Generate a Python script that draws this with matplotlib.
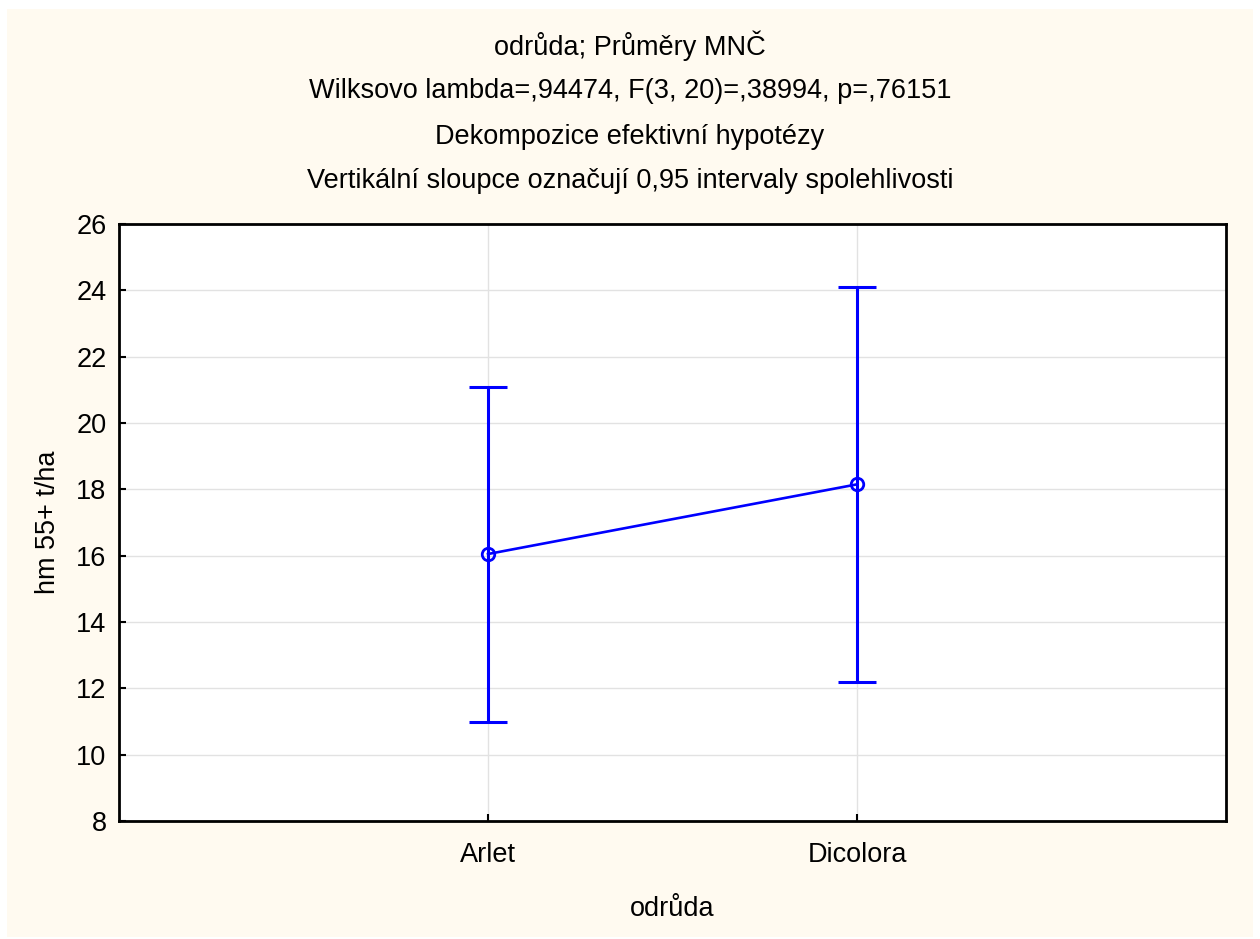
import matplotlib
matplotlib.use("Agg")
import matplotlib.pyplot as plt
from matplotlib.patches import Rectangle

# Data: least-squares means with 0.95 confidence limits
varieties = ["Arlet", "Dicolora"]
means = [16.05, 18.15]
ci_low = [11.0, 12.2]
ci_high = [21.1, 24.1]
y_ticks = [8, 10, 12, 14, 16, 18, 20, 22, 24, 26]

title_lines = [
    "odrůda; Průměry MNČ",
    "Wilksovo lambda=,94474, F(3, 20)=,38994, p=,76151",
    "Dekompozice efektivní hypotézy",
    "Vertikální sloupce označují 0,95 intervaly spolehlivosti",
]

plt.rcParams["font.family"] = ["Liberation Sans", "DejaVu Sans"]
FS = 19.5

W, H = 1260, 939
fig = plt.figure(figsize=(W / 100, H / 100), dpi=100, facecolor="white")
fig.patches.append(Rectangle((7 / W, 2 / H), 1246 / W, 928 / H,
                             transform=fig.transFigure, facecolor="#FFFAF0",
                             edgecolor="none", zorder=-10))

ax = fig.add_axes([119 / W, 1 - 821 / H, (1226 - 119) / W, (821 - 224) / H])
ax.set_facecolor("white")

x = [1, 2]
yerr = [[m - lo for m, lo in zip(means, ci_low)],
        [hi - m for m, hi in zip(means, ci_high)]]
ax.errorbar(x, means, yerr=yerr, fmt="none", ecolor="#0000FF",
            elinewidth=2.2, capsize=13.7, capthick=2.2, zorder=3)
ax.plot(x, means, color="#0000FF", lw=1.9, marker="o", markersize=9,
        markerfacecolor="none", markeredgewidth=2, zorder=4)

ax.set_xlim(0, 3)
ax.set_ylim(8, 26)
ax.set_xticks(x)
ax.set_xticklabels(varieties)
ax.set_yticks(y_ticks)
ax.grid(True, color="#E2E2E2", lw=1)
ax.set_axisbelow(True)
ax.tick_params(direction="in", length=5, width=1.5, labelsize=FS)
ax.tick_params(axis="x", pad=15)
ax.tick_params(axis="y", pad=9)
for s in ax.spines.values():
    s.set_linewidth(2)

ax.set_xlabel("odrůda", fontsize=FS, labelpad=20)
ax.set_ylabel("hm 55+ t/ha", fontsize=FS, labelpad=11)

for yy, txt in zip([46, 91, 137, 181], title_lines):
    fig.text(0.5, 1 - yy / H, txt, ha="center", va="center", fontsize=FS)

fig.savefig("out.png", dpi=100, facecolor="white")
